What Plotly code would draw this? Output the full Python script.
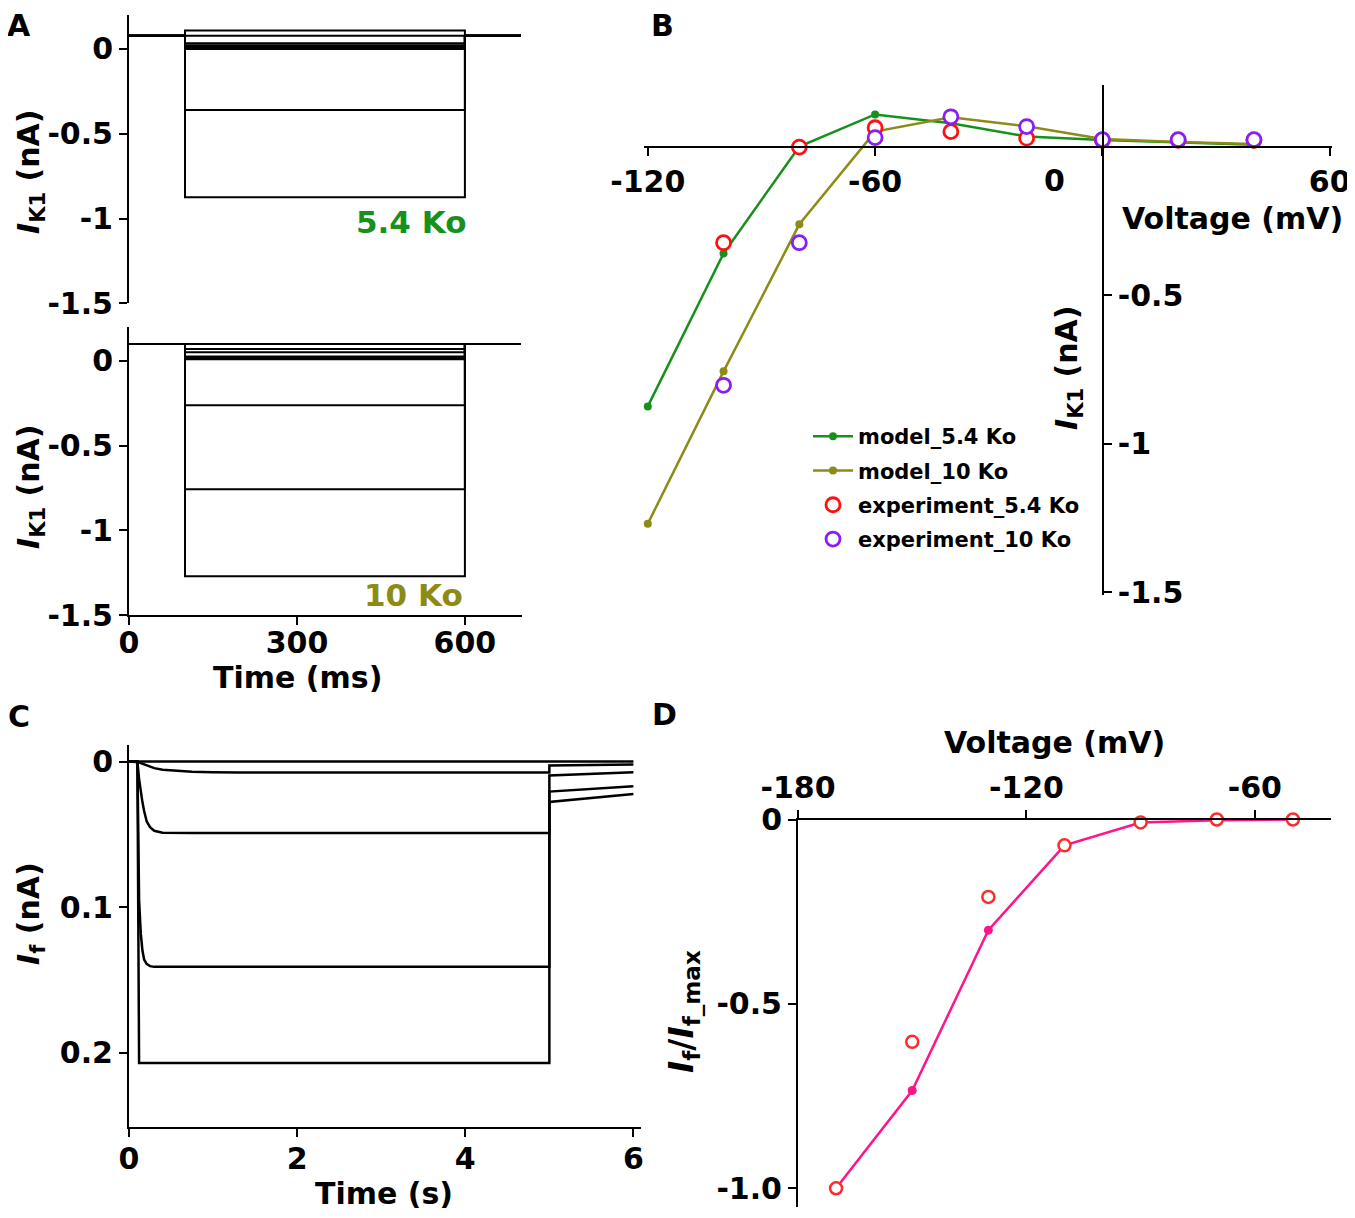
import plotly.graph_objects as go

W, H = 1355, 1218
FONT = "DejaVu Sans"

# ---- panel A / B : IK1 (model + experiment) ----
v_k1 = [-120, -100, -80, -60, -40, -20, 0, 20, 40]
model_54 = [-0.875, -0.36, 0.0, 0.108, 0.078, 0.034, 0.022, 0.013, 0.006]
model_10 = [-1.27, -0.757, -0.262, 0.05, 0.098, 0.068, 0.025, 0.015, 0.008]

v_exp = [-100, -80, -60, -40, -20, 0, 20, 40]
exp_54 = [-0.324, -0.002, 0.063, 0.05, 0.028, 0.021, 0.021, 0.021]
exp_10 = [-0.804, -0.324, 0.03, 0.10, 0.067, 0.023, 0.023, 0.023]

# voltage-clamp protocol for panel A (ms), holding at -40 mV
step_on, step_off, t_end = 100, 600, 700
holding_v = -40

# ---- panel C : If time courses ----
c_t = [0, 0.1, 0.12, 0.14, 0.16, 0.18, 0.21, 0.25, 0.3, 0.4, 0.55, 0.75, 1.0, 1.3, 5.0]
c_traces = [
    [0] * 15,
    [0, 0, 0.0005, 0.001, 0.0015, 0.002, 0.0028, 0.0036, 0.0045, 0.0056, 0.0064, 0.007, 0.0074, 0.0075, 0.0075],
    [0, 0, 0.012, 0.021, 0.028, 0.034, 0.041, 0.045, 0.0475, 0.0488, 0.049, 0.049, 0.049, 0.049, 0.049],
    [0, 0, 0.095, 0.118, 0.13, 0.136, 0.139, 0.1405, 0.141, 0.141, 0.141, 0.141, 0.141, 0.141, 0.141],
    [0, 0, 0.207, 0.207, 0.207, 0.207, 0.207, 0.207, 0.207, 0.207, 0.207, 0.207, 0.207, 0.207, 0.207],
]
c_tail_t = [5.0, 5.5, 6.0]
c_tails = [
    [0, 0, 0],
    [0.0027, 0.0023, 0.002],
    [0.0095, 0.0083, 0.0073],
    [0.0206, 0.0186, 0.017],
    [0.0277, 0.0247, 0.0222],
]

# ---- panel D : normalised If-V ----
v_f = [-170, -150, -130, -110, -90, -70, -50]
model_f = [-1.0, -0.735, -0.30, -0.07, -0.008, -0.002, 0.0]
exp_f = [-1.0, -0.603, -0.21, -0.07, -0.008, 0.0, 0.0]

GREEN = "#18901c"
OLIVE = "#8b8b16"
RED = "#ff1010"
PURPLE = "#8a1cf5"
PINK = "#ff148c"

# the page body has an 8px margin, so shift page pixels into the plot div
OFF = 8


def px(x):
    return (x - OFF) / W


def py(y):
    return 1 - (y - OFF) / H


fig = go.Figure()

# panel A traces
hold_54 = model_54[v_k1.index(holding_v)]
hold_10 = model_10[v_k1.index(holding_v)]
for vals, hold, ax in [(model_54, hold_54, ("x", "y")), (model_10, hold_10, ("x2", "y2"))]:
    for v in vals:
        fig.add_trace(go.Scatter(
            x=[0, step_on, step_on, step_off, step_off, t_end],
            y=[hold, hold, v, v, hold, hold],
            mode="lines", line=dict(color="black", width=2),
            xaxis=ax[0], yaxis=ax[1], showlegend=False, hoverinfo="skip"))

# panel B traces
fig.add_trace(go.Scatter(x=v_k1, y=model_54, mode="lines+markers", name="model_5.4 Ko",
                         line=dict(color=GREEN, width=2.5), marker=dict(size=8, color=GREEN),
                         xaxis="x3", yaxis="y3", cliponaxis=False, legendgroup="a"))
fig.add_trace(go.Scatter(x=v_k1, y=model_10, mode="lines+markers", name="model_10 Ko",
                         line=dict(color=OLIVE, width=2.5), marker=dict(size=8, color=OLIVE),
                         xaxis="x3", yaxis="y3", cliponaxis=False, legendgroup="b"))
fig.add_trace(go.Scatter(x=v_exp, y=exp_54, mode="markers", name="experiment_5.4 Ko",
                         marker=dict(size=14, color="white", line=dict(color=RED, width=2.8)),
                         xaxis="x3", yaxis="y3", cliponaxis=False, legendgroup="c"))
fig.add_trace(go.Scatter(x=v_exp, y=exp_10, mode="markers", name="experiment_10 Ko",
                         marker=dict(size=14, color="white", line=dict(color=PURPLE, width=2.8)),
                         xaxis="x3", yaxis="y3", cliponaxis=False, legendgroup="d"))

# panel C traces
for vals, tail in zip(c_traces, c_tails):
    fig.add_trace(go.Scatter(x=c_t + c_tail_t, y=vals + tail, mode="lines",
                             line=dict(color="black", width=2.5),
                             xaxis="x4", yaxis="y4", showlegend=False, hoverinfo="skip"))

# panel D traces
fig.add_trace(go.Scatter(x=v_f, y=model_f, mode="lines+markers",
                         line=dict(color=PINK, width=2.5), marker=dict(size=9, color=PINK),
                         xaxis="x5", yaxis="y5", cliponaxis=False, showlegend=False))
fig.add_trace(go.Scatter(x=v_f, y=exp_f, mode="markers",
                         marker=dict(size=12, color="white", line=dict(color="#ff2a2a", width=2.5)),
                         xaxis="x5", yaxis="y5", cliponaxis=False, showlegend=False))

tick_font = dict(family=FONT, size=30, color="black", weight="bold")
base = dict(showgrid=False, zeroline=False, showline=True, linecolor="black", linewidth=2,
            ticks="outside", ticklen=8, tickwidth=2, tickcolor="black", tickfont=tick_font,
            automargin=False)

fig.update_layout(
    width=W, height=H, margin=dict(l=0, r=0, t=0, b=0, autoexpand=False),
    paper_bgcolor="white", plot_bgcolor="rgba(0,0,0,0)",
    font=dict(family=FONT, size=30, color="black", weight="bold"),
    xaxis=dict(domain=[px(129), px(522)], range=[0, 702], visible=False, anchor="y",
               automargin=False),
    yaxis=dict(base, domain=[py(303.3), py(15)], range=[-1.5, 0.2], anchor="x",
               tickvals=[0, -0.5, -1, -1.5], ticktext=["0", "-0.5", "-1", "-1.5"]),
    xaxis2=dict(base, domain=[px(129), px(522)], range=[0, 702], anchor="y2",
                tickvals=[0, 300, 600], ticktext=["0", "300", "600"], ticklabelstandoff=-8),
    yaxis2=dict(base, domain=[py(615.3), py(326.7)], range=[-1.5, 0.2], anchor="x2",
                tickvals=[0, -0.5, -1, -1.5], ticktext=["0", "-0.5", "-1", "-1.5"]),
    xaxis3=dict(base, domain=[px(644), px(1332)], range=[-121, 60.6], anchor="free",
                position=py(146.7), tickvals=[-120, -60, 0, 60], ticktext=["-120", "-60", "", "60"]),
    yaxis3=dict(base, domain=[py(595), py(85)], range=[-1.51, 0.207], anchor="free",
                position=px(1102.7), side="right",
                tickvals=[-0.5, -1, -1.5], ticktext=["-0.5", "-1", "-1.5"]),
    xaxis4=dict(base, domain=[px(129), px(641)], range=[0, 6.09], anchor="y4",
                tickvals=[0, 2, 4, 6], ticktext=["0", "2", "4", "6"], ticklabelstandoff=-4),
    yaxis4=dict(base, domain=[py(1126.7), py(745)], range=[0.2508, -0.0114], anchor="x4",
                tickvals=[0, 0.1, 0.2], ticktext=["0", "0.1", "0.2"]),
    xaxis5=dict(base, domain=[px(798), px(1331)], range=[-180, -40], anchor="y5", side="top",
                tickvals=[-180, -120, -60], ticktext=["-180", "-120", "-60"]),
    yaxis5=dict(base, domain=[py(1206.7), py(819.5)], range=[-1.05, 0], anchor="x5",
                tickvals=[0, -0.5, -1.0], ticktext=["0", "-0.5", "-1.0"]),
    legend=dict(x=px(808), y=py(416), xanchor="left", yanchor="top",
                font=dict(family=FONT, size=21, color="black", weight="bold"),
                bgcolor="rgba(0,0,0,0)", tracegroupgap=4, itemwidth=40),
)


def note(text, x, y, size=30, color="black", angle=0):
    fig.add_annotation(text=text, x=px(x), y=py(y), xref="paper", yref="paper",
                       xanchor="center", yanchor="middle",
                       showarrow=False, textangle=angle,
                       font=dict(family=FONT, size=size, color=color, weight="bold"))


note("A", 19, 25, size=30)
note("B", 662, 25, size=30)
note("C", 19, 716, size=30)
note("D", 664, 714, size=30)

ik1_title = "<i>I</i><sub>K1</sub> (nA)"
note(ik1_title, 30, 172, angle=-90)
note(ik1_title, 30, 487, angle=-90)
note("Time (ms)", 297, 677)
note("5.4 Ko", 411, 222, size=31, color=GREEN)
note("10 Ko", 413, 595, size=31, color=OLIVE)

note("0", 1054, 180)
note("Voltage (mV)", 1232, 218)
note(ik1_title, 1068, 368, angle=-90)

note("<i>I</i><sub>f</sub> (nA)", 30, 913, angle=-90)
note("Time (s)", 384, 1193)

note("Voltage (mV)", 1054, 742)
note("<i>I</i><sub>f</sub>/<i>I</i><sub>f_max</sub>", 683, 1012, size=33, angle=-90)

fig.write_html("out.html")
